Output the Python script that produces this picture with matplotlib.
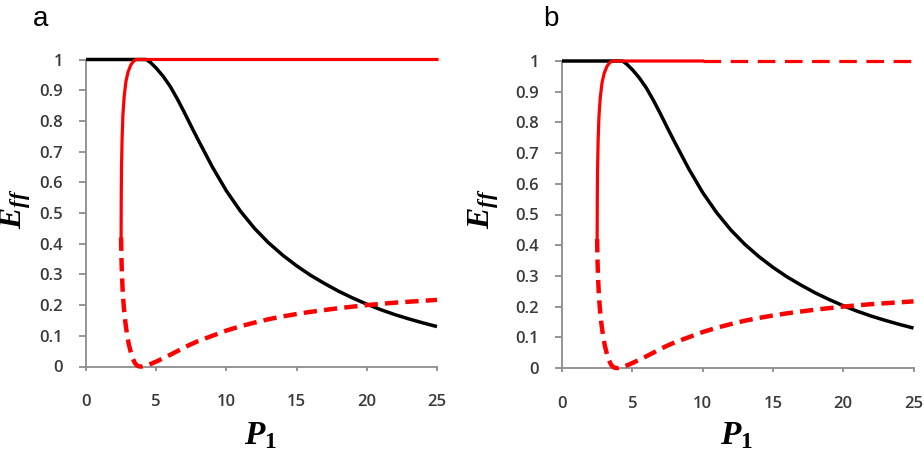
import matplotlib
matplotlib.use("Agg")
import matplotlib.pyplot as plt

plt.rcParams["mathtext.fontset"] = "custom"
plt.rcParams["mathtext.it"] = "Liberation Serif:italic:bold"
plt.rcParams["mathtext.rm"] = "Liberation Serif:bold"
plt.rcParams["mathtext.bf"] = "Liberation Serif:bold"

# Black curve
black_x = [0, 1, 2, 3, 4, 4.3, 4.6, 5, 5.5, 6, 6.5, 7, 7.5, 8, 9, 10, 11, 12, 13, 14, 15, 16, 17, 18, 19, 20, 21, 22, 23, 24, 25]
black_y = [1, 1, 1, 1, 1, 1.0, 0.99, 0.972, 0.945, 0.912, 0.872, 0.828, 0.782, 0.737, 0.65, 0.572, 0.506, 0.45, 0.403, 0.363, 0.328, 0.297, 0.27, 0.245, 0.223, 0.203, 0.185, 0.169, 0.155, 0.142, 0.13]

# Red upper (stable) branch
red_up_x = [2.5, 2.51, 2.53, 2.57, 2.63, 2.72, 2.85, 3.0, 3.2, 3.4, 3.6, 4, 6, 10, 15, 20, 25]
red_up_y = [0.42, 0.55, 0.65, 0.74, 0.82, 0.88, 0.93, 0.96, 0.983, 0.995, 1.0, 1, 1, 1, 1, 1, 1]

# Red lower (unstable) branch
red_lo_x = [2.5, 2.52, 2.56, 2.62, 2.7, 2.8, 2.92, 3.05, 3.2, 3.35, 3.5, 3.65, 3.8, 4.0, 4.3, 4.7, 5, 5.5, 6, 6.5, 7, 7.5, 8, 9, 10, 11, 12, 13, 14, 15, 16, 17, 18, 19, 20, 21, 22, 23, 24, 25]
red_lo_y = [0.42, 0.36, 0.3, 0.24, 0.19, 0.145, 0.105, 0.072, 0.045, 0.024, 0.01, 0.003, 0.0, 0.0, 0.003, 0.01, 0.016, 0.027, 0.038, 0.05, 0.062, 0.073, 0.083, 0.1, 0.117, 0.131, 0.143, 0.154, 0.163, 0.171, 0.178, 0.184, 0.19, 0.195, 0.2, 0.204, 0.208, 0.211, 0.214, 0.217]

# Panel b: upper branch solid up to this P1, dashed beyond
b_split = 10

x_ticks = [0, 5, 10, 15, 20, 25]
y_ticks = [0, 0.1, 0.2, 0.3, 0.4, 0.5, 0.6, 0.7, 0.8, 0.9, 1]
y_ticklabels = ["0", "0.1", "0.2", "0.3", "0.4", "0.5", "0.6", "0.7", "0.8", "0.9", "1"]
panel_labels = ["a", "b"]

RED = "#ff0000"
GRID = "#8c8c8c"
W, H = 924, 453

fig = plt.figure(figsize=(9.24, 4.53), dpi=100)
# pixel geometry: (x0, x1, ytop, ybottom)
geoms = [(86, 437, 59.5, 366.5), (562, 913.5, 61, 368)]
label_pos = [(33, 19), (543, 19)]
ylab_x = [16, 484]

for i, (x0, x1, yt, yb) in enumerate(geoms):
    ax = fig.add_axes([x0 / W, 1 - yb / H, (x1 - x0) / W, (yb - yt) / H])
    ax.set_xlim(0, 25)
    ax.set_ylim(0, 1)
    for s in ["top", "right"]:
        ax.spines[s].set_visible(False)
    for s in ["left", "bottom"]:
        ax.spines[s].set_color(GRID)
        ax.spines[s].set_linewidth(1.3)
    ax.set_xticks(x_ticks)
    ax.set_yticks(y_ticks)
    ax.set_yticklabels(y_ticklabels)
    ax.tick_params(axis="y", direction="out", length=5, width=1.3, color=GRID,
                   labelsize=12, labelcolor="#3a3a3a", pad=11.5)
    ax.tick_params(axis="x", direction="out", length=3, width=1.3, color=GRID,
                   labelsize=12, labelcolor="#3a3a3a", pad=17)
    for lab in ax.get_xticklabels() + ax.get_yticklabels():
        lab.set_family("Open Sans")
        lab.set_fontweight("semibold")

    ax.plot(black_x, black_y, color="black", lw=2.5, clip_on=False, zorder=3,
            solid_capstyle="butt")
    if i == 0:
        ax.plot(red_up_x, red_up_y, color=RED, lw=2.3, clip_on=False, zorder=4)
    else:
        sx = [x for x in red_up_x if x <= b_split]
        sy = [y for x, y in zip(red_up_x, red_up_y) if x <= b_split]
        dx = [b_split] + [x for x in red_up_x if x > b_split]
        dy = [1] + [y for x, y in zip(red_up_x, red_up_y) if x > b_split]
        ax.plot(sx, sy, color=RED, lw=2.3, clip_on=False, zorder=4)
        ax.plot(dx, dy, color=RED, lw=2.3, ls=(0, (5.5, 3.0)), clip_on=False, zorder=4)
    ax.plot(red_lo_x, red_lo_y, color=RED, lw=3.2, ls=(0, (3.0, 1.6)), clip_on=False, zorder=4)

    fig.text(ylab_x[i] / W, 1 - 209 / H, r"$E_{ff}$", fontsize=23, rotation=90,
             ha="center", va="center")
    fig.text((x0 + 0.496 * (x1 - x0)) / W, 2 / H, r"$P_{1}$", fontsize=24,
             ha="center", va="bottom")
    fig.text(label_pos[i][0] / W, 1 - label_pos[i][1] / H, panel_labels[i], fontsize=20,
             family="Liberation Sans", ha="left", va="center")

fig.savefig("out.png", dpi=100)
